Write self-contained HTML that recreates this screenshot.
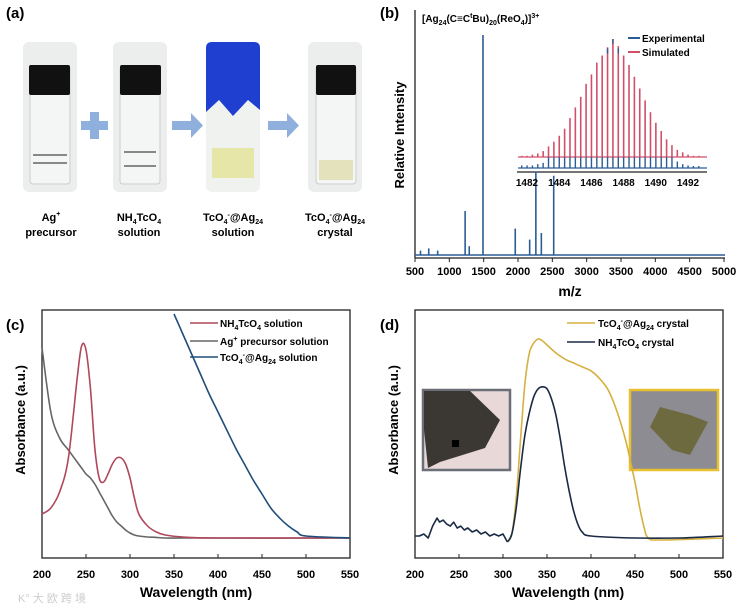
<!DOCTYPE html>
<html><head><meta charset="utf-8"><style>
body{margin:0;background:#fff;width:750px;height:608px;overflow:hidden}
svg{font-family:"Liberation Sans",sans-serif;font-weight:bold}
</style></head><body>
<svg id="fig" width="750" height="608" viewBox="0 0 750 608">
<!-- Panel (a) -->
<g>
<text x="6" y="18" font-size="15">(a)</text>
<g>
<rect x="23" y="42" width="54" height="150" rx="6" fill="#eceeee"/><rect x="30" y="66" width="40" height="118" rx="3" fill="#f4f6f6" stroke="#ccc"/><rect x="29" y="65" width="41" height="30" rx="2" fill="#111"/><line x1="33" y1="155" x2="67" y2="155" stroke="#888" stroke-width="2"/><line x1="33" y1="163" x2="67" y2="163" stroke="#888" stroke-width="2"/></g>
<g><rect x="81" y="121" width="27" height="9" fill="#8fb0dc"/><rect x="90" y="112" width="9" height="27" fill="#8fb0dc"/></g>
<g>
<rect x="113" y="42" width="54" height="150" rx="6" fill="#eceeee"/><rect x="120" y="66" width="40" height="118" rx="3" fill="#f4f6f6" stroke="#ccc"/><rect x="120" y="65" width="41" height="30" rx="2" fill="#111"/><line x1="124" y1="152" x2="156" y2="152" stroke="#888" stroke-width="2"/><line x1="124" y1="166" x2="156" y2="166" stroke="#888" stroke-width="2"/></g>
<g><rect x="172" y="121" width="20" height="9" fill="#8fb0dc"/><polygon points="191,113 203,125.5 191,138" fill="#8fb0dc"/></g>
<g>
<rect x="206" y="42" width="54" height="150" rx="6" fill="#f0f2f0"/><path d="M206 48 Q206 42 212 42 L254 42 Q260 42 260 48 L260 110 L248 100 L233 116 L219 100 L206 112 Z" fill="#1f3fd0"/><rect x="212" y="148" width="42" height="30" fill="#e6e6a8"/></g>
<g><rect x="268" y="121" width="20" height="9" fill="#8fb0dc"/><polygon points="287,113 299,125.5 287,138" fill="#8fb0dc"/></g>
<g>
<rect x="308" y="42" width="54" height="150" rx="6" fill="#eceeee"/><rect x="316" y="66" width="40" height="118" rx="3" fill="#f4f6f6" stroke="#ccc"/><rect x="316" y="65" width="40" height="30" rx="2" fill="#111"/><rect x="319" y="160" width="34" height="20" fill="#e4e2bc"/></g>
<g font-size="11" text-anchor="middle">
<text x="51" y="221">Ag<tspan font-size="7" dy="-5">+</tspan></text><text x="51" y="236">precursor</text>
<text x="139" y="221">NH<tspan font-size="7" dy="3">4</tspan><tspan dy="-3">TcO</tspan><tspan font-size="7" dy="3">4</tspan></text><text x="139" y="236">solution</text>
<text x="233" y="221">TcO<tspan font-size="7" dy="3">4</tspan><tspan font-size="7" dy="-7">-</tspan><tspan dy="4">@Ag</tspan><tspan font-size="7" dy="3">24</tspan></text><text x="233" y="236">solution</text>
<text x="335" y="221">TcO<tspan font-size="7" dy="3">4</tspan><tspan font-size="7" dy="-7">-</tspan><tspan dy="4">@Ag</tspan><tspan font-size="7" dy="3">24</tspan></text><text x="335" y="236">crystal</text>
</g></g>
<!-- Panel (b) -->
<g id="pb">
<text x="380" y="18" font-size="15">(b)</text>
<line x1="415" y1="10" x2="415" y2="258" stroke="#222" stroke-width="1.3"/>
<line x1="415" y1="258" x2="725" y2="258" stroke="#222" stroke-width="1.3"/>
<text x="0" y="0" font-size="13" text-anchor="middle" transform="translate(404,135) rotate(-90)">Relative Intensity</text>
<text x="570" y="296" font-size="14" text-anchor="middle">m/z</text>
<text x="422" y="22" font-size="10">[Ag<tspan font-size="7" dy="3">24</tspan><tspan dy="-3">(C≡C</tspan><tspan font-size="7" dy="-4">t</tspan><tspan dy="4">Bu)</tspan><tspan font-size="7" dy="3">20</tspan><tspan dy="-3">(ReO</tspan><tspan font-size="7" dy="3">4</tspan><tspan dy="-3">)]</tspan><tspan font-size="7" dy="-4">3+</tspan></text>
<line x1="628" y1="38" x2="640" y2="38" stroke="#2a5d96" stroke-width="2"/>
<text x="642" y="42" font-size="10">Experimental</text>
<line x1="628" y1="52" x2="640" y2="52" stroke="#d0506a" stroke-width="2"/>
<text x="642" y="56" font-size="10">Simulated</text>
<line x1="517" y1="172" x2="707" y2="172" stroke="#222" stroke-width="1.3"/>
</g>
<!-- Panel (c) -->
<g id="pc">
<text x="6" y="330" font-size="15">(c)</text>
<rect x="42" y="310" width="308" height="248" fill="none" stroke="#222" stroke-width="1.3"/>
<text x="0" y="0" font-size="13" text-anchor="middle" transform="translate(25,420) rotate(-90)">Absorbance (a.u.)</text>
<text x="196" y="597" font-size="14" text-anchor="middle">Wavelength (nm)</text>
<text x="18" y="602" font-size="11" fill="#ccc" font-weight="normal">K° 大 欧 跨 境</text>
</g>
<!-- Panel (d) -->
<g id="pd">
<text x="380" y="330" font-size="15">(d)</text>
<rect x="415" y="310" width="308" height="248" fill="none" stroke="#222" stroke-width="1.3"/>
<text x="0" y="0" font-size="13" text-anchor="middle" transform="translate(398,420) rotate(-90)">Absorbance (a.u.)</text>
<text x="568" y="597" font-size="14" text-anchor="middle">Wavelength (nm)</text>
<g><rect x="423" y="390" width="87" height="80" fill="#e8d8d8" stroke="#6a6f78" stroke-width="2.5"/><path d="M424 391 L470 391 L500 420 L485 448 L440 462 L428 468 L424 430Z" fill="#3b3733"/><rect x="452" y="440" width="7" height="7" fill="#000"/></g>
<g><rect x="630" y="390" width="88" height="80" fill="#8c8c92" stroke="#e8c030" stroke-width="2.5"/><path d="M660 407 L690 415 L708 422 L690 455 L672 450 L650 427Z" fill="#6e6a40"/></g>
</g>
<g font-size="10">
<line x1="190" y1="323" x2="218" y2="323" stroke="#b0485c" stroke-width="1.6"/><text x="220" y="327">NH<tspan font-size="7" dy="3">4</tspan><tspan dy="-3">TcO</tspan><tspan font-size="7" dy="3">4</tspan><tspan dy="-3"> solution</tspan></text>
<line x1="190" y1="341" x2="218" y2="341" stroke="#666" stroke-width="1.6"/><text x="220" y="345">Ag<tspan font-size="7" dy="-4">+</tspan><tspan dy="4"> precursor solution</tspan></text>
<line x1="190" y1="357" x2="218" y2="357" stroke="#1f4e7a" stroke-width="1.6"/><text x="220" y="361">TcO<tspan font-size="7" dy="3">4</tspan><tspan font-size="7" dy="-7">-</tspan><tspan dy="4">@Ag</tspan><tspan font-size="7" dy="3">24</tspan><tspan dy="-3"> solution</tspan></text>
</g>
<g font-size="10">
<line x1="567" y1="323" x2="595" y2="323" stroke="#d6b040" stroke-width="1.6"/><text x="598" y="327">TcO<tspan font-size="7" dy="3">4</tspan><tspan font-size="7" dy="-7">-</tspan><tspan dy="4">@Ag</tspan><tspan font-size="7" dy="3">24</tspan><tspan dy="-3"> crystal</tspan></text>
<line x1="567" y1="342" x2="595" y2="342" stroke="#1a2a44" stroke-width="1.6"/><text x="598" y="346">NH<tspan font-size="7" dy="3">4</tspan><tspan dy="-3">TcO</tspan><tspan font-size="7" dy="3">4</tspan><tspan dy="-3"> crystal</tspan></text>
</g>
</svg>
<script>
// ---- Panel b data ----
const msTicks=[500,1000,1500,2000,2500,3000,3500,4000,4500,5000];
const msPeakMz=[580,700,830,1230,1290,1490,1960,2170,2260,2340,2520];
const msPeakInt=[2,3,2,20,4,100,12,7,38,10,36];
const insetTicks=[1482,1484,1486,1488,1490,1492];
const insetSim=[1,1,2,3,5,9,13,18,24,33,42,51,62,70,80,86,93,100,94,86,78,68,58,48,38,29,22,15,10,6,4,2,1,1];
const insetExp=[2,2,2,3,4,9,12,17,22,31,40,50,61,71,79,84,92,100,92,85,77,67,57,47,37,28,20,14,9,5,3,2,1,1];
// ---- Panel c data ----
const wlTicks=[200,250,300,350,400,450,500,550];
const cX=[200,210,220,230,240,245,250,255,260,265,270,275,280,285,290,295,300,305,310,320,330,340,360,400,550];
const cRed=[12,15,23,40,80,96,94,75,45,30,28,32,37,40,40,37,30,20,12,6,3,1.5,0.5,0,0];
const cGray=[95,63,50,44,38,35,32,30,27,23,19,15,11,8,6,4,2.5,1.5,1,0.5,0.3,0,0,0,0];
const cBlueX=[350,360,370,380,390,400,410,420,430,440,450,460,470,480,490,500,550];
const cBlue=[112,102,92,82,72,63,54,45,37,29,22,15,10,6,3,1,0];
// ---- Panel d data ----
const dNoiseX=[200,205,210,215,220,225,228,232,236,240,244,248,252,256,260,265,270,275,280,285,290,295,300,305];
const dNoise=[1,1,2,0,6,10,8,9,7,6,8,5,6,4,5,3,4,2,3,1,2,1,2,-2];
const dYelX=[305,310,315,320,325,330,335,340,345,350,360,370,380,390,400,410,420,430,440,450,455,460,465,480,550];
const dYel=[-2,2,20,50,78,93,98,100,99,97,93,90,88,86,84,80,74,63,48,28,16,6,0,-1,0];
const dNavX=[305,310,315,320,325,330,335,340,345,350,355,360,365,370,375,380,385,390,400,450,500,550];
const dNav=[-2,2,15,35,52,63,71,75,76,75,70,62,50,36,24,14,7,3,1,0,0,1];

const NS="http://www.w3.org/2000/svg";
function mk(tag,attrs,parent){const e=document.createElementNS(NS,tag);for(const k in attrs)e.setAttribute(k,attrs[k]);parent.appendChild(e);return e;}
const svg=document.getElementById('fig');
// panel b
const pb=document.getElementById('pb');
const bx=v=>415+(v-500)/4500*309, by=v=>255-v/100*220;
msTicks.forEach(t=>{const tk=mk('line',{x1:bx(t),x2:bx(t),y1:258,y2:262,stroke:'#222'},pb);


const tl=mk('text',{x:bx(t),y:275,'font-size':11,'text-anchor':'middle'},pb);tl.textContent=t;

});
mk('line',{x1:415,x2:725,y1:255,y2:255,stroke:'#2a5d96','stroke-width':1.5},pb);
msPeakMz.forEach((m,i)=>{const p=mk('line',{x1:bx(m),x2:bx(m),y1:255,y2:by(msPeakInt[i]),stroke:'#2a5d96','stroke-width':1.6},pb);

});
const ix=v=>527+(v-1482)*16.1;
insetTicks.forEach(t=>{const tl=mk('text',{x:ix(t),y:186,'font-size':10,'text-anchor':'middle'},pb);tl.textContent=t;

});
mk('line',{x1:518,x2:707,y1:157,y2:157,stroke:'#d0506a','stroke-width':1.3},pb);
mk('line',{x1:518,x2:707,y1:168,y2:168,stroke:'#2a5d96','stroke-width':1.3},pb);
insetSim.forEach((v,i)=>{const m=1481.67+i/3;const p=mk('line',{x1:ix(m),x2:ix(m),y1:157,y2:157-v/100*118,stroke:'#d0506a','stroke-width':1.6},pb);

});
insetExp.forEach((v,i)=>{const m=1481.67+i/3;const h=Math.min(v/100*129,11);const p=mk('line',{x1:ix(m),x2:ix(m),y1:168,y2:168-Math.max(h,2),stroke:'#2a5d96','stroke-width':1.4},pb);


if(v>=90){const q=mk('line',{x1:ix(m),x2:ix(m),y1:157-v/100*118,y2:157-v/100*118+5,stroke:'#2a5d96','stroke-width':1.4},pb);}});
// panels c,d
function axes(g,x0,pref){const sx=v=>x0+(v-200)/350*308;
wlTicks.forEach(t=>{const tk=mk('line',{x1:sx(t),x2:sx(t),y1:558,y2:554,stroke:'#222'},g);


const tl=mk('text',{x:sx(t),y:578,'font-size':11,'text-anchor':'middle'},g);tl.textContent=t;

});return sx;}
const pc=document.getElementById('pc'),pd=document.getElementById('pd');
const cxs=axes(pc,42,'c'), dxs=axes(pd,415,'d');
const cy=v=>538-v/100*200;
function line(g,xs,ys,sx,sy,col,name,clip,sharp){
const P=xs.map((x,i)=>[sx(x),sy(ys[i])]);
let d='M'+P[0][0].toFixed(1)+' '+P[0][1].toFixed(1);
for(let i=0;i<P.length-1;i++){
 if(sharp){d+=' L'+P[i+1][0].toFixed(1)+' '+P[i+1][1].toFixed(1);continue;}
 const p0=P[i-1]||P[i],p1=P[i],p2=P[i+1],p3=P[i+2]||P[i+1];
 const c1=[p1[0]+(p2[0]-p0[0])/6,p1[1]+(p2[1]-p0[1])/6],c2=[p2[0]-(p3[0]-p1[0])/6,p2[1]-(p3[1]-p1[1])/6];
 d+=` C${c1[0].toFixed(1)} ${c1[1].toFixed(1)} ${c2[0].toFixed(1)} ${c2[1].toFixed(1)} ${p2[0].toFixed(1)} ${p2[1].toFixed(1)}`;}
const p=mk('path',{d:d,fill:'none',stroke:col,'stroke-width':1.6,'stroke-linejoin':'round'},g);if(clip)p.setAttribute('clip-path',clip);

}
const cp=mk('clipPath',{id:'cclip'},svg);mk('rect',{x:42,y:310,width:308,height:248},cp);
line(pc,cX,cGray,cxs,cy,'#666','c-ag-precursor-line');
line(pc,cX,cRed,cxs,cy,'#b0485c','c-nh4tco4-line');
line(pc,cBlueX,cBlue,cxs,cy,'#1f4e7a','c-tco4-ag24-line','url(#cclip)');
const dy=v=>538-v/100*199;
line(pd,dNoiseX,dNoise,dxs,dy,'#1a2a44','d-noise-line',null,true);
line(pd,dYelX,dYel,dxs,dy,'#d6b040','d-tco4-ag24-crystal-line');
line(pd,dNavX,dNav,dxs,dy,'#1a2a44','d-nh4tco4-crystal-line');
</script>
</body></html>
